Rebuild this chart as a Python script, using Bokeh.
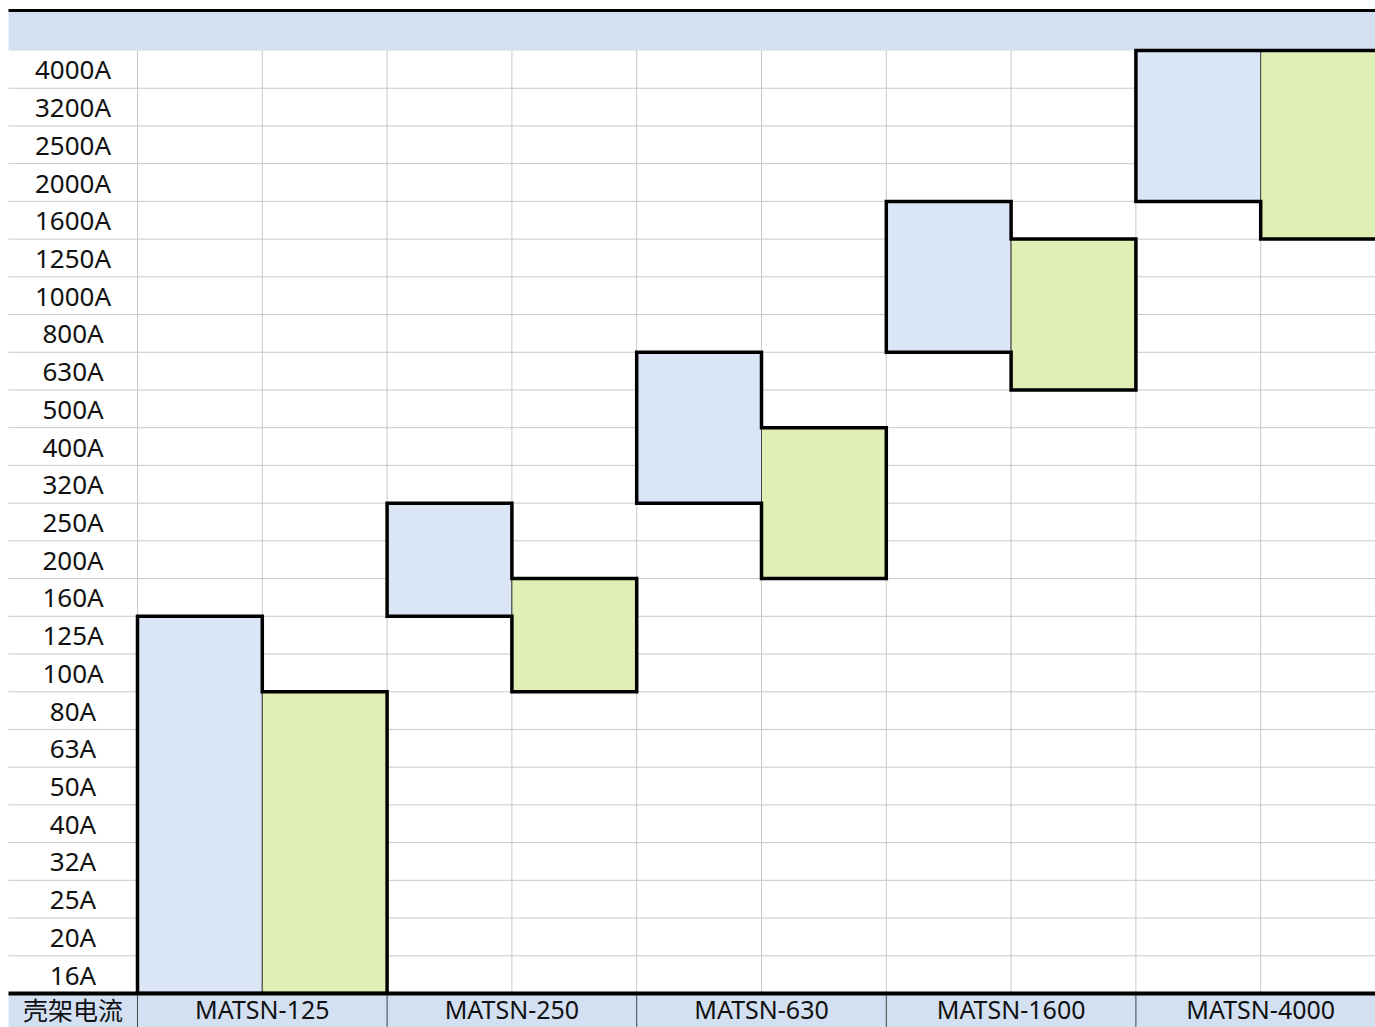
from bokeh.plotting import figure
from bokeh.models import Range1d, ColumnDataSource
from bokeh.core.properties import value
from bokeh.embed import file_html
from bokeh.resources import INLINE

# ---------------- data ----------------
current_labels = ["16A", "20A", "25A", "32A", "40A", "50A", "63A", "80A", "100A", "125A",
                  "160A", "200A", "250A", "320A", "400A", "500A", "630A", "800A", "1000A",
                  "1250A", "1600A", "2000A", "2500A", "3200A", "4000A"]
frames = ["MATSN-125", "MATSN-250", "MATSN-630", "MATSN-1600", "MATSN-4000"]
corner_label = "壳架电流"
blue_low = ["16A", "160A", "320A", "800A", "2000A"]
blue_high = ["125A", "250A", "630A", "1600A", "4000A"]
green_low = ["16A", "100A", "200A", "630A", "1600A"]
green_high = ["80A", "160A", "400A", "1250A", "4000A"]

# ---------------- layout ----------------
W, H = 1375, 1027
ROW_PX = 37.72
COL_PX = 124.8
LABEL_COL_PX = 137
LEFT_PAD_PX = 8
HEADER_PX = 40
TOP_GAP_PX = 50

n_rows = len(current_labels)
n_cols = 2 * len(frames)
x_start = -LABEL_COL_PX / COL_PX
x_end = x_start + W / COL_PX
x_left = x_start + LEFT_PAD_PX / COL_PX
y_end = n_rows + TOP_GAP_PX / ROW_PX
y_start = y_end - H / ROW_PX
header_top = n_rows + HEADER_PX / ROW_PX
label_x = x_left / 2

BLUE = "#dae6f6"
GREEN = "#e0efb3"
BAND = "#d3e0f2"
GRID = "#c8c8c8"
FONT = "Noto Sans"

p = figure(width=W, height=H, x_range=Range1d(x_start, x_end), y_range=Range1d(y_start, y_end),
           output_backend="svg", toolbar_location=None, min_border=0,
           x_axis_location=None, y_axis_location=None,
           background_fill_color="white", border_fill_color="white", outline_line_color=None)
p.grid.visible = False

idx = {lab: i for i, lab in enumerate(current_labels)}

# grid lines
hy = list(range(1, n_rows))
p.segment(x0=[x_left] * len(hy), x1=[x_end] * len(hy), y0=hy, y1=hy, line_color=GRID, line_width=1)
vx = list(range(0, n_cols + 1))
p.segment(x0=vx, x1=vx, y0=[0] * len(vx), y1=[n_rows] * len(vx), line_color=GRID, line_width=1)

# header band
p.quad(left=[x_left], right=[x_end], bottom=[n_rows], top=[header_top], fill_color=BAND, line_color=None)
p.segment(x0=[x_left], x1=[x_end], y0=[header_top], y1=[header_top], line_color="black", line_width=3)

# blocks
nf = len(frames)
bsrc = ColumnDataSource(dict(
    left=[2 * i for i in range(nf)], right=[2 * i + 1 for i in range(nf)],
    bottom=[idx[b] for b in blue_low], top=[idx[b] + 1 for b in blue_high]))
gsrc = ColumnDataSource(dict(
    left=[2 * i + 1 for i in range(nf)], right=[2 * i + 2 for i in range(nf)],
    bottom=[idx[g] for g in green_low], top=[idx[g] + 1 for g in green_high]))
p.quad(left="left", right="right", bottom="bottom", top="top", source=bsrc,
       fill_color=BLUE, line_color="#444444", line_width=1)
p.quad(left="left", right="right", bottom="bottom", top="top", source=gsrc,
       fill_color=GREEN, line_color="#444444", line_width=1)

# union outlines
xs, ys = [], []
for i in range(nf):
    x0, x1, x2 = 2 * i, 2 * i + 1, 2 * i + 2
    b0, b1 = idx[blue_low[i]], idx[blue_high[i]] + 1
    g0, g1 = idx[green_low[i]], idx[green_high[i]] + 1
    xs.append([x0, x0, x1, x1, x2, x2, x1, x1])
    ys.append([b0, b1, b1, g1, g1, g0, g0, b0])
p.patches(xs=xs, ys=ys, fill_color=None, line_color="black", line_width=3.5, line_join="miter")

# footer band
p.quad(left=[x_left], right=[x_end], bottom=[y_start], top=[0], fill_color=BAND, line_color=None)
fx = [2 * i for i in range(nf + 1)]
p.segment(x0=fx, x1=fx, y0=[y_start] * len(fx), y1=[0] * len(fx), line_color="#444444", line_width=1)
p.segment(x0=[x_left], x1=[x_end], y0=[0], y1=[0], line_color="black", line_width=4)

# row labels
p.text(x=[label_x] * n_rows, y=[i + 0.5 for i in range(n_rows)], text=current_labels,
       text_align="center", text_baseline="middle", text_font=value(FONT),
       text_font_size="26px", text_color="#111111")

# footer labels
fy = (y_start + 4 / ROW_PX) / 2
p.text(x=[2 * i + 1 for i in range(nf)], y=[fy] * nf, text=frames,
       text_align="center", text_baseline="middle", text_font=value(FONT),
       text_font_size="25px", text_color="#111111")
p.text(x=[label_x], y=[fy], text=[corner_label],
       text_align="center", text_baseline="middle", text_font=value("Noto Sans CJK SC"),
       text_font_size="25px", text_color="#111111")

open("out.html", "w").write(file_html(p, INLINE))
